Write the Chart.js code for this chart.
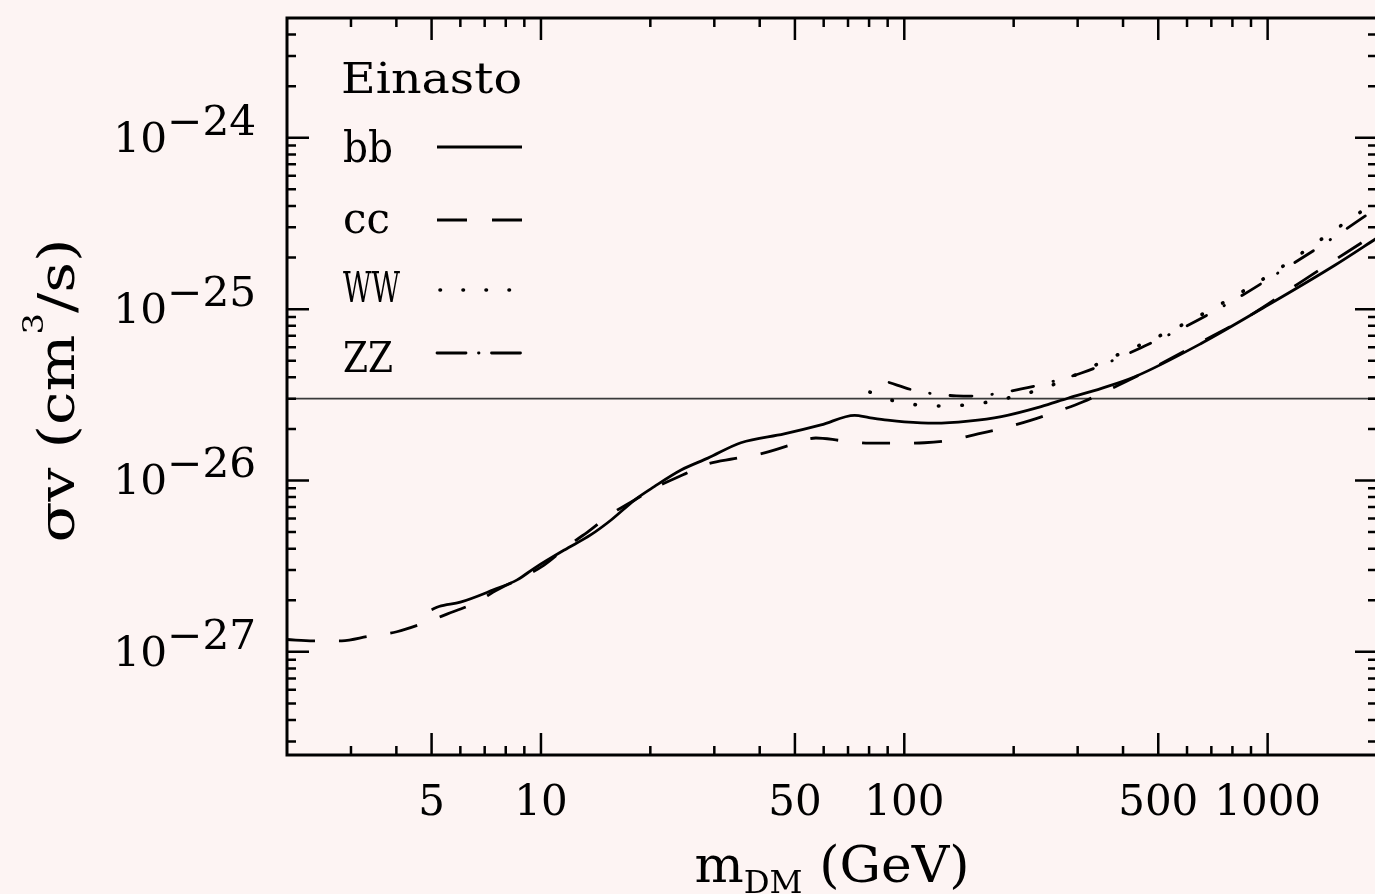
<!DOCTYPE html>
<html>
<head>
<meta charset="utf-8">
<script src="https://cdn.jsdelivr.net/npm/chart.js@4/dist/chart.umd.min.js"></script>
<style>
  html, body { margin: 0; padding: 0; overflow: hidden; background: #fdf4f3; }
  #wrap { width: 1380px; height: 894px; }
</style>
</head>
<body>
<div id="wrap"><canvas id="c" width="1380" height="894"></canvas></div>
<script>
// Upper limits on the annihilation cross section, Einasto halo profile

const bbMass  = [5.0, 5.24, 6.0, 7.4, 8.6, 9.6, 11.6, 13.7, 15.6, 18.1, 20.5, 24.3, 28.8, 35.5, 46.7, 59.0, 73.0, 80.0, 90.0, 100, 121, 150, 185, 238, 282, 349, 431, 658, 1005, 1535, 2000];
const bbSigma = [1.76e-27, 1.84e-27, 1.95e-27, 2.30e-27, 2.63e-27, 3.08e-27, 3.93e-27, 4.81e-27, 5.88e-27, 7.69e-27, 9.20e-27, 1.15e-26, 1.35e-26, 1.66e-26, 1.87e-26, 2.11e-26, 2.40e-26, 2.33e-26, 2.25e-26, 2.20e-26, 2.16e-26, 2.22e-26, 2.36e-26, 2.70e-26, 3.02e-26, 3.45e-26, 4.03e-26, 6.32e-26, 1.06e-25, 1.81e-25, 2.60e-25];

const ccMass  = [2.0, 2.36, 2.83, 3.35, 4.01, 4.75, 5.51, 6.54, 7.59, 8.61, 10.2, 11.8, 13.6, 15.6, 18.1, 20.5, 24.6, 28.8, 34.0, 40.7, 47.7, 57.1, 67.0, 80.1, 96.0, 113.6, 134.6, 159.5, 188.9, 223.7, 262.2, 310.7, 364.1, 426.7, 672.4, 914.1, 1216, 1636, 2000];
const ccSigma = [1.18e-27, 1.16e-27, 1.16e-27, 1.23e-27, 1.31e-27, 1.47e-27, 1.66e-27, 1.92e-27, 2.30e-27, 2.63e-27, 3.21e-27, 4.11e-27, 5.10e-27, 6.38e-27, 7.69e-27, 9.01e-27, 1.08e-26, 1.25e-26, 1.34e-26, 1.44e-26, 1.59e-26, 1.77e-26, 1.71e-26, 1.65e-26, 1.65e-26, 1.66e-26, 1.72e-26, 1.87e-26, 2.03e-26, 2.25e-26, 2.52e-26, 2.88e-26, 3.37e-26, 3.96e-26, 6.60e-26, 9.45e-26, 1.41e-25, 2.12e-25, 2.78e-25];

const wwMass  = [80.4, 93.9, 109, 127.7, 148.1, 171.7, 199.2, 233.4, 275.9, 355.6, 458.5, 598.6, 854.2, 1080, 1384, 2000];
const wwSigma = [3.28e-26, 2.91e-26, 2.76e-26, 2.72e-26, 2.76e-26, 2.88e-26, 3.08e-26, 3.37e-26, 3.86e-26, 5.00e-26, 6.35e-26, 8.35e-26, 1.27e-25, 1.73e-25, 2.50e-25, 4.30e-25];

const zzMass  = [90.8, 105.7, 120.9, 139.0, 159.8, 182.6, 210.0, 241.4, 307.3, 355.6, 458.5, 598.6, 854.2, 1080, 1384, 2000];
const zzSigma = [3.73e-26, 3.37e-26, 3.20e-26, 3.12e-26, 3.11e-26, 3.24e-26, 3.42e-26, 3.66e-26, 4.24e-26, 4.78e-26, 6.09e-26, 7.97e-26, 1.21e-25, 1.65e-25, 2.30e-25, 3.89e-25];

const thermalSigma = 3e-26;
const massRange = [2, 2000];
const sigmaRange = [2.5e-28, 5e-24];
const xTickLabels = [5, 10, 50, 100, 500, 1000];
const yTickExponents = [-24, -25, -26, -27];
const legendTitle = 'Einasto';
const channelNames = ['bb', 'cc', 'WW', 'ZZ'];

const FONT = '"DejaVu Serif", serif';
const BG = '#fdf4f3';
const INK = '#000';

const channelStyles = [
  { dash: [],                legendDash: [],                     cap: 'butt',  width: 2.8 },
  { dash: [28, 24],          legendDash: [30, 25],               cap: 'butt',  width: 2.8 },
  { dash: [0.5, 23],         legendDash: [0.5, 22.5],            cap: 'round', width: 3.6 },
  { dash: [22, 20, 0.5, 20], legendDash: [29, 12.5, 0.5, 12.5],  cap: 'round', width: 2.8 }
];

const seriesMass = [bbMass, ccMass, wwMass, zzMass];
const seriesSigma = [bbSigma, ccSigma, wwSigma, zzSigma];

function pairs(xs, ys) { return xs.map((x, i) => ({ x: x, y: ys[i] })); }

const datasets = channelNames.map((name, i) => ({
  label: name,
  data: pairs(seriesMass[i], seriesSigma[i]),
  borderColor: INK,
  borderWidth: channelStyles[i].width,
  borderDash: channelStyles[i].dash,
  borderCapStyle: channelStyles[i].cap,
  pointRadius: 0,
  cubicInterpolationMode: 'monotone',
  fill: false
}));
datasets.push({
  label: 'thermal',
  data: pairs(massRange, [thermalSigma, thermalSigma]),
  borderColor: '#3a3a3a',
  borderWidth: 1.8,
  pointRadius: 0,
  fill: false
});

// Draws a run of text pieces (size / baseline shift) starting at x, horizontally scaled by sx
function richWidth(ctx, parts) {
  let w = 0;
  for (const p of parts) { ctx.font = p.size + 'px ' + FONT; w += ctx.measureText(p.t).width; }
  return w;
}
function drawRich(ctx, parts, x, y, sx) {
  ctx.save();
  ctx.translate(x, y);
  ctx.scale(sx, 1);
  let cx = 0;
  for (const p of parts) {
    ctx.font = p.size + 'px ' + FONT;
    ctx.fillText(p.t, cx, p.dy || 0);
    cx += ctx.measureText(p.t).width;
  }
  ctx.restore();
}
function fitText(ctx, text, x, y, w, size) {
  ctx.font = size + 'px ' + FONT;
  const m = ctx.measureText(text).width;
  ctx.save();
  ctx.translate(x, y);
  ctx.scale(w / m, 1);
  ctx.fillText(text, 0, 0);
  ctx.restore();
}

function logTicks(lo, hi) {
  const out = [];
  for (let e = Math.floor(Math.log10(lo)); e <= Math.ceil(Math.log10(hi)); e++) {
    for (let k = 1; k <= 9; k++) {
      const v = k * Math.pow(10, e);
      if (v > lo * 1.0001 && v < hi * 0.9999) out.push({ v: v, k: k });
    }
  }
  return out;
}

const framePlugin = {
  id: 'frame',
  beforeDraw(chart) {
    const ctx = chart.ctx;
    ctx.save();
    ctx.fillStyle = BG;
    ctx.fillRect(0, 0, chart.width, chart.height);
    ctx.restore();
  },
  afterDraw(chart) {
    const ctx = chart.ctx;
    const a = chart.chartArea;
    const xs = chart.scales.x, ys = chart.scales.y;
    ctx.save();
    ctx.strokeStyle = INK;
    ctx.fillStyle = INK;

    // inward ticks on all four sides
    ctx.lineWidth = 2.5;
    ctx.beginPath();
    for (const t of logTicks(massRange[0], massRange[1])) {
      const px = xs.getPixelForValue(t.v);
      const len = (t.k === 1 || t.k === 5) ? 22 : 9;
      ctx.moveTo(px, a.bottom); ctx.lineTo(px, a.bottom - len);
      ctx.moveTo(px, a.top); ctx.lineTo(px, a.top + len);
    }
    for (const t of logTicks(sigmaRange[0], sigmaRange[1])) {
      const py = ys.getPixelForValue(t.v);
      const len = t.k === 1 ? 22 : 9;
      ctx.moveTo(a.left, py); ctx.lineTo(a.left + len, py);
      ctx.moveTo(a.right, py); ctx.lineTo(a.right - len, py);
    }
    ctx.stroke();

    // frame
    ctx.lineWidth = 3;
    ctx.strokeRect(a.left, a.top, a.right - a.left, a.bottom - a.top);

    // x tick labels
    ctx.textBaseline = 'alphabetic';
    ctx.textAlign = 'center';
    ctx.font = '42px ' + FONT;
    for (const v of xTickLabels) {
      ctx.fillText(String(v), xs.getPixelForValue(v), 815);
    }

    // y tick labels: 10 with exponent
    ctx.textAlign = 'left';
    for (const e of yTickExponents) {
      const py = ys.getPixelForValue(Math.pow(10, e));
      const parts = [
        { t: '10', size: 41, dy: 0 },
        { t: '\u2212' + String(-e), size: 41, dy: -17 }
      ];
      const w = richWidth(ctx, parts);
      drawRich(ctx, parts, 252 - w, py + 14, 1.03);
    }

    // x axis title
    const xt = [
      { t: 'm', size: 50, dy: 0 },
      { t: 'DM', size: 31, dy: 11 },
      { t: ' (GeV)', size: 50, dy: 0 }
    ];
    const xw = richWidth(ctx, xt);
    drawRich(ctx, xt, (a.left + a.right) / 2 - 275 / 2, 882, 275 / xw);

    // y axis title, rotated
    const yt = [
      { t: '\u03c3v', size: 50, dy: 0 },
      { t: ' (cm', size: 50, dy: 0 },
      { t: '3', size: 28, dy: -31 },
      { t: '/s)', size: 50, dy: 0 }
    ];
    const yw = richWidth(ctx, yt);
    ctx.save();
    ctx.translate(74, (a.top + a.bottom) / 2 + 4);
    ctx.rotate(-Math.PI / 2);
    drawRich(ctx, yt, -304 / 2, 0, 304 / yw);
    ctx.restore();

    // legend
    fitText(ctx, legendTitle, 341, 93, 181, 43);
    const rows = [{ base: 162, line: 147, w: 50 }, { base: 233, line: 220, w: 47 },
                  { base: 302, line: 290, w: 57 }, { base: 372, line: 353, w: 50 }];
    channelNames.forEach((name, i) => {
      const r = rows[i];
      fitText(ctx, name, 343, r.base, r.w, 43);
      const st = channelStyles[i];
      ctx.save();
      ctx.lineWidth = st.width;
      ctx.lineCap = st.cap;
      ctx.setLineDash(st.legendDash);
      ctx.beginPath();
      ctx.moveTo(i === 2 ? 440 : 437, r.line);
      ctx.lineTo(522, r.line);
      ctx.stroke();
      ctx.restore();
    });

    ctx.restore();
  }
};

new Chart(document.getElementById('c'), {
  type: 'line',
  data: { datasets: datasets },
  plugins: [framePlugin],
  options: {
    responsive: false,
    devicePixelRatio: 1,
    animation: false,
    events: [],
    layout: { padding: { left: 287, top: 18, right: 3, bottom: 139 } },
    plugins: { legend: { display: false }, tooltip: { enabled: false } },
    scales: {
      x: { type: 'logarithmic', min: massRange[0], max: massRange[1], display: false },
      y: { type: 'logarithmic', min: sigmaRange[0], max: sigmaRange[1], display: false }
    }
  }
});
</script>
</body>
</html>
